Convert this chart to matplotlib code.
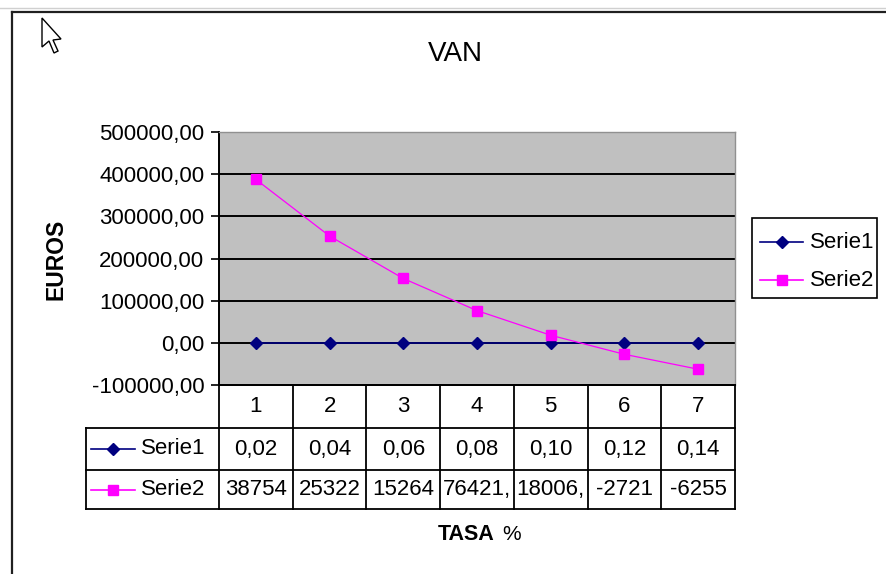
import matplotlib
matplotlib.use('Agg')
import matplotlib.pyplot as plt
from matplotlib.lines import Line2D
from matplotlib.patches import Polygon, Rectangle
import matplotlib.transforms as mtransforms
from matplotlib.ticker import FuncFormatter, FixedLocator

# ---------------- data ----------------
categories = ["1", "2", "3", "4", "5", "6", "7"]
serie1 = [0.02, 0.04, 0.06, 0.08, 0.10, 0.12, 0.14]
serie2 = [387540, 253220, 152640, 76421, 18006, -27210, -62550]
serie1_table = ["0,02", "0,04", "0,06", "0,08", "0,10", "0,12", "0,14"]
serie2_table = ["38754", "25322", "15264", "76421,", "18006,", "-2721", "-6255"]
series_names = ["Serie1", "Serie2"]
yticks = [-100000, 0, 100000, 200000, 300000, 400000, 500000]
title_text = "VAN"
ylabel_text = "EUROS"
xlabel_bold = "TASA"
xlabel_rest = "%"

# ---------------- style ----------------
W, H = 886, 574
plt.rcParams['font.family'] = ['Liberation Sans', 'DejaVu Sans']
NAVY = '#000080'
MAG = '#FF00FF'
BG = '#C0C0C0'
FS = 16

def fx(px):
    return px / W

def fy(py):
    return 1 - py / H

fig = plt.figure(figsize=(W / 100, H / 100), dpi=100)
fig.patch.set_facecolor('white')

L, R, T, B = 219, 735, 132, 385
ax = fig.add_axes([fx(L), fy(B), fx(R) - fx(L), fy(T) - fy(B)])
ax.set_facecolor(BG)

x = list(range(1, len(categories) + 1))
ax.set_xlim(0.5, len(categories) + 0.5)
ax.set_ylim(yticks[0], yticks[-1])

for yv in yticks[1:-1]:
    ax.axhline(yv, color='black', lw=1.4, zorder=1)

styles = [dict(color=NAVY, lw=1.2, marker='D', markersize=6.5),
          dict(color=MAG, lw=0.9, marker='s', markersize=7)]
lines = []
for k, vals in enumerate([serie1, serie2]):
    st = styles[k]
    ln, = ax.plot(x, vals, color=st['color'], lw=st['lw'], marker=st['marker'],
                  markersize=st['markersize'], markerfacecolor=st['color'],
                  markeredgecolor=st['color'], zorder=3 + k, clip_on=False)
    lines.append(ln)

ax.yaxis.set_major_locator(FixedLocator(yticks))
ax.yaxis.set_major_formatter(FuncFormatter(lambda v, p: f"{v:.2f}".replace('.', ',')))
ax.tick_params(axis='y', direction='out', length=5.5, width=1.2, labelsize=FS,
               colors='black', pad=5)
ax.set_xticks([])
for s in ['top', 'right']:
    ax.spines[s].set_color('#909090')
    ax.spines[s].set_linewidth(1.0)
ax.spines['left'].set_color('black')
ax.spines['left'].set_linewidth(1.4)
ax.spines['bottom'].set_color('black')
ax.spines['bottom'].set_linewidth(1.4)

# ---------------- titles ----------------
fig.text(fx(455), fy(54), title_text, ha='center', va='center', fontsize=20)
fig.text(fx(56), fy(259), ylabel_text, ha='center', va='center', fontsize=16.5,
         fontweight='bold', rotation=90)
fig.text(fx(494), fy(534), xlabel_bold, ha='right', va='center', fontsize=15.5,
         fontweight='bold')
fig.text(fx(502), fy(534), xlabel_rest, ha='left', va='center', fontsize=15)

# ---------------- data table ----------------
blend = mtransforms.blended_transform_factory(ax.transData, fig.transFigure)
rows_y = [385, 428, 470, 509]
tab_left = 86
lw_t = 1.3
fig.add_artist(Line2D([fx(L), fx(R)], [fy(rows_y[0])] * 2, color='black', lw=lw_t))
for ry in rows_y[1:]:
    fig.add_artist(Line2D([fx(tab_left), fx(R)], [fy(ry)] * 2, color='black', lw=lw_t))
fig.add_artist(Line2D([fx(tab_left)] * 2, [fy(rows_y[1]), fy(rows_y[3])], color='black', lw=lw_t))
for i in range(len(categories) + 1):
    xv = 0.5 + i
    fig.add_artist(Line2D([xv, xv], [fy(rows_y[0]), fy(rows_y[3])], color='black',
                          lw=lw_t, transform=blend))
row_centers = [(rows_y[k] + rows_y[k + 1]) / 2 for k in range(3)]
for i, c in enumerate(categories):
    fig.text(x[i], fy(row_centers[0]), c, transform=blend, ha='center', va='center', fontsize=FS)
    fig.text(x[i], fy(row_centers[1]), serie1_table[i], transform=blend, ha='center',
             va='center', fontsize=FS)
    fig.text(x[i], fy(row_centers[2]), serie2_table[i], transform=blend, ha='center',
             va='center', fontsize=FS)
for k, name in enumerate(series_names):
    st = styles[k]
    yy = fy(row_centers[k + 1])
    fig.add_artist(Line2D([fx(91), fx(135)], [yy, yy], color=st['color'], lw=1.2))
    fig.add_artist(Line2D([fx(113)], [yy], color=st['color'], marker=st['marker'],
                          markersize=st['markersize'] - 0.5,
                          markerfacecolor=st['color'], markeredgecolor=st['color']))
    fig.text(fx(141), yy, name, ha='left', va='center', fontsize=FS)

# ---------------- legend (drawn as a box) ----------------
fig.add_artist(Rectangle((fx(752), fy(298)), fx(877) - fx(752), fy(218) - fy(298),
                         facecolor='white', edgecolor='black', lw=1.2))
leg_y = [242, 280]
for k, name in enumerate(series_names):
    st = styles[k]
    yy = fy(leg_y[k])
    fig.add_artist(Line2D([fx(760), fx(803)], [yy, yy], color=st['color'], lw=1.2))
    fig.add_artist(Line2D([fx(781.5)], [yy], color=st['color'], marker=st['marker'],
                          markersize=st['markersize'] - 0.5,
                          markerfacecolor=st['color'], markeredgecolor=st['color']))
    fig.text(fx(810), yy, name, ha='left', va='center', fontsize=FS)

# ---------------- outer frame and cursor ----------------
fig.add_artist(Line2D([0, 1], [fy(7.5), fy(7.5)], color='#d0d0d0', lw=1.0))
fig.add_artist(Line2D([fx(12), 1], [fy(11.5), fy(11.5)], color='#202020', lw=1.6))
fig.add_artist(Line2D([fx(12), fx(12)], [fy(11.5), 0], color='#202020', lw=1.6))

cursor_px = [(42, 18), (42, 47), (49, 41), (54, 53), (58, 51), (53, 40), (61, 39)]
fig.add_artist(Polygon([(fx(a), fy(b)) for a, b in cursor_px], closed=True,
                       facecolor='white', edgecolor='black', lw=1.0))

fig.savefig('out.png', dpi=100, facecolor='white')
